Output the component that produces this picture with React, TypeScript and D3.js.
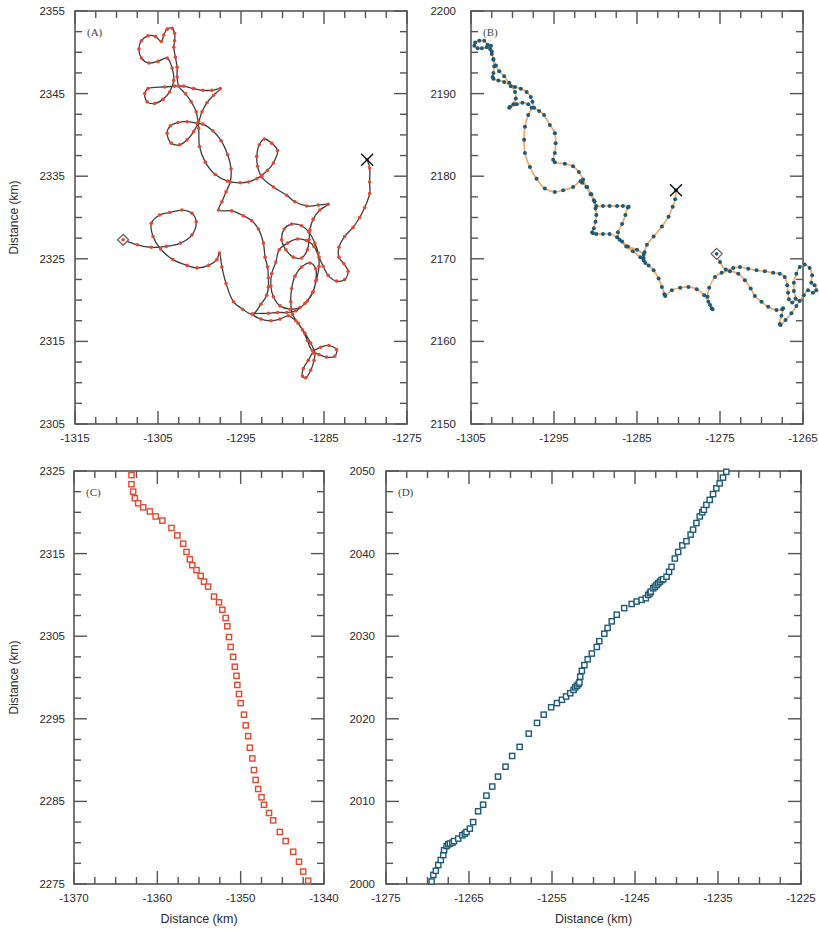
import React from 'react';
import * as d3 from 'd3';

type Pt = [number, number];

// ---- Panel A: drifter track (km), from start (diamond) to end (cross)
const trackA: Pt[] = [
  [-1309.2, 2327.3], [-1307.5, 2326.7], [-1305.8, 2326.4], [-1304.0, 2326.5], [-1302.3, 2326.9],
  [-1300.9, 2327.9], [-1300.4, 2329.5], [-1300.9, 2330.5], [-1302.1, 2330.9], [-1303.6, 2330.6],
  [-1304.8, 2330.3], [-1305.8, 2329.3], [-1305.6, 2327.7], [-1304.7, 2326.2], [-1303.2, 2324.9],
  [-1301.5, 2324.2], [-1300.3, 2323.9], [-1298.9, 2324.2], [-1297.9, 2324.9], [-1297.6, 2325.7],
  [-1297.3, 2324.0], [-1296.8, 2322.0], [-1295.9, 2319.8], [-1294.8, 2318.9], [-1293.6, 2318.3],
  [-1292.6, 2319.5], [-1291.9, 2320.6], [-1291.7, 2321.6], [-1291.7, 2322.7], [-1291.8, 2324.0],
  [-1292.1, 2325.2], [-1292.3, 2326.9], [-1292.9, 2328.6], [-1293.7, 2329.6], [-1294.7, 2330.2],
  [-1296.1, 2330.8], [-1297.7, 2330.9], [-1297.3, 2331.9], [-1296.8, 2333.1], [-1296.3, 2334.3],
  [-1296.2, 2335.9], [-1296.6, 2337.6], [-1297.4, 2339.3], [-1298.4, 2340.5], [-1299.6, 2341.3],
  [-1300.3, 2341.4], [-1301.5, 2341.6], [-1302.6, 2341.5], [-1303.5, 2341.1], [-1303.9, 2340.2],
  [-1303.4, 2339.0], [-1302.4, 2338.8], [-1301.5, 2339.4], [-1300.7, 2340.4], [-1300.1, 2341.6],
  [-1299.7, 2342.8], [-1299.1, 2343.9], [-1298.3, 2344.8], [-1297.5, 2345.6], [-1298.5, 2345.4],
  [-1299.6, 2345.4], [-1300.7, 2345.6], [-1301.9, 2345.9], [-1303.0, 2345.9], [-1304.2, 2345.8],
  [-1306.2, 2345.6], [-1306.6, 2345.0], [-1306.3, 2344.0], [-1305.4, 2343.8], [-1304.4, 2344.3],
  [-1303.6, 2345.2], [-1303.1, 2346.6], [-1303.3, 2348.1], [-1303.9, 2349.3], [-1305.0, 2348.9],
  [-1306.1, 2348.7], [-1307.0, 2349.3], [-1307.3, 2350.4], [-1307.0, 2351.4], [-1306.2, 2352.0],
  [-1305.3, 2351.9], [-1304.6, 2351.3], [-1304.3, 2352.1], [-1303.9, 2352.8], [-1303.3, 2352.9],
  [-1303.0, 2352.3], [-1303.0, 2351.4], [-1303.1, 2350.6], [-1302.9, 2349.4], [-1302.7, 2348.2],
  [-1302.7, 2347.0], [-1302.5, 2345.9], [-1301.7, 2345.0], [-1301.0, 2344.0], [-1300.4, 2342.8],
  [-1300.1, 2340.8], [-1300.0, 2338.6], [-1299.3, 2336.7], [-1298.1, 2335.2], [-1296.6, 2334.4],
  [-1295.1, 2334.2], [-1294.1, 2334.3], [-1293.1, 2334.7], [-1292.5, 2335.1], [-1291.8, 2335.7],
  [-1291.1, 2336.6], [-1290.6, 2338.1], [-1291.3, 2339.0], [-1292.2, 2339.5], [-1292.8, 2338.8],
  [-1293.1, 2337.4], [-1293.0, 2336.2], [-1292.5, 2334.9], [-1291.1, 2333.7], [-1289.5, 2332.7],
  [-1288.5, 2331.9], [-1287.1, 2331.4], [-1285.7, 2331.5], [-1284.5, 2331.6], [-1285.5, 2330.9],
  [-1286.3, 2329.8], [-1286.7, 2328.5], [-1286.8, 2327.3], [-1287.0, 2326.1], [-1287.7, 2325.1],
  [-1288.7, 2325.2], [-1289.6, 2326.1], [-1290.1, 2327.3], [-1289.8, 2328.6], [-1288.9, 2329.2],
  [-1287.7, 2329.0], [-1286.8, 2328.2], [-1286.1, 2326.9], [-1285.7, 2325.7], [-1285.6, 2324.1],
  [-1285.9, 2322.5], [-1286.4, 2320.9], [-1287.3, 2319.6], [-1288.4, 2318.7], [-1289.5, 2318.5],
  [-1290.6, 2318.5], [-1291.7, 2318.4], [-1293.6, 2318.3], [-1292.6, 2317.7], [-1291.4, 2317.5],
  [-1290.3, 2317.7], [-1289.3, 2318.1], [-1288.4, 2317.5], [-1287.6, 2316.4], [-1287.0, 2315.1],
  [-1286.4, 2313.9], [-1285.4, 2314.3], [-1284.4, 2314.5], [-1283.5, 2314.0], [-1283.7, 2313.2],
  [-1284.7, 2313.1], [-1285.6, 2313.4], [-1286.3, 2313.6], [-1286.9, 2312.7], [-1287.5, 2311.7],
  [-1287.6, 2310.8], [-1287.2, 2310.6], [-1286.6, 2311.5], [-1286.2, 2312.7], [-1286.1, 2313.6],
  [-1286.6, 2314.8], [-1287.3, 2316.0], [-1288.1, 2317.2], [-1288.8, 2318.3], [-1289.0, 2319.8],
  [-1288.9, 2321.4], [-1288.5, 2322.9], [-1287.7, 2324.0], [-1286.7, 2324.5], [-1286.0, 2323.8],
  [-1286.0, 2322.3], [-1286.3, 2321.0], [-1287.0, 2319.9], [-1287.9, 2319.1], [-1289.1, 2318.9],
  [-1290.3, 2319.3], [-1291.1, 2320.4], [-1291.4, 2321.7], [-1291.3, 2323.2], [-1290.8, 2324.6],
  [-1290.4, 2326.1], [-1289.4, 2326.9], [-1288.2, 2327.4], [-1287.1, 2327.2], [-1286.2, 2326.5],
  [-1285.6, 2325.2], [-1285.1, 2324.1], [-1284.5, 2323.0], [-1283.5, 2322.3], [-1282.5, 2322.5],
  [-1282.1, 2323.5], [-1282.6, 2324.4], [-1283.2, 2325.2], [-1283.2, 2326.4], [-1282.5, 2327.7],
  [-1281.5, 2328.8], [-1280.7, 2330.0], [-1280.1, 2331.2], [-1279.5, 2332.9], [-1279.5, 2334.3],
  [-1279.5, 2336.0], [-1279.8, 2337.0],
];

// ---- Panel B: second drifter track (km), start (diamond) to end (cross)
const trackB: Pt[] = [
  [-1275.4, 2170.6], [-1275.0, 2169.6], [-1274.3, 2168.7], [-1273.4, 2168.9], [-1272.6, 2169.0],
  [-1271.6, 2168.8], [-1270.6, 2168.6], [-1269.6, 2168.5], [-1268.6, 2168.3], [-1267.8, 2168.2],
  [-1267.2, 2167.8], [-1266.9, 2166.8], [-1266.8, 2165.9], [-1266.7, 2165.1], [-1266.3, 2164.7],
  [-1265.9, 2165.2], [-1266.1, 2166.1], [-1266.1, 2167.1], [-1265.8, 2168.2], [-1265.4, 2169.0],
  [-1264.8, 2169.3], [-1264.2, 2168.9], [-1263.9, 2168.0], [-1264.0, 2167.1], [-1263.6, 2166.8],
  [-1263.4, 2166.2], [-1263.8, 2165.9], [-1264.4, 2166.2], [-1264.9, 2165.6], [-1265.4, 2164.9],
  [-1265.8, 2164.3], [-1266.4, 2163.4], [-1267.1, 2162.6], [-1267.7, 2162.0], [-1267.8, 2162.1],
  [-1267.6, 2163.1], [-1267.4, 2164.0], [-1267.5, 2163.9], [-1268.2, 2163.8], [-1269.2, 2164.2],
  [-1270.0, 2164.8], [-1270.8, 2165.5], [-1271.3, 2166.4], [-1272.0, 2167.4], [-1272.8, 2168.2],
  [-1273.8, 2168.5], [-1274.8, 2168.3], [-1275.6, 2167.8], [-1276.3, 2166.5], [-1276.5, 2165.4],
  [-1276.2, 2164.4], [-1275.9, 2163.9], [-1276.0, 2164.0], [-1276.4, 2164.8], [-1276.9, 2165.6],
  [-1277.8, 2166.3], [-1278.8, 2166.6], [-1279.8, 2166.5], [-1280.8, 2166.2], [-1281.6, 2165.5],
  [-1281.7, 2165.7], [-1282.0, 2166.6], [-1282.4, 2167.6], [-1283.0, 2168.6], [-1283.6, 2169.2],
  [-1284.2, 2169.8], [-1284.2, 2170.5], [-1285.0, 2171.1], [-1286.1, 2171.5], [-1286.8, 2172.1],
  [-1287.4, 2172.6], [-1288.3, 2173.0], [-1289.1, 2173.0], [-1289.9, 2173.0], [-1290.3, 2173.1],
  [-1290.4, 2173.2], [-1290.2, 2173.7], [-1290.0, 2174.5], [-1289.9, 2175.3], [-1290.0, 2176.1],
  [-1290.1, 2176.9], [-1290.5, 2177.8], [-1291.0, 2178.7], [-1291.6, 2179.2], [-1291.8, 2179.4],
  [-1292.7, 2178.7], [-1293.9, 2178.3], [-1294.9, 2178.1], [-1296.1, 2178.5], [-1297.1, 2179.7],
  [-1297.9, 2181.1], [-1298.5, 2182.8], [-1298.6, 2184.4], [-1298.5, 2186.0], [-1298.1, 2187.4],
  [-1297.7, 2188.3], [-1298.1, 2188.7], [-1298.8, 2188.9], [-1299.5, 2188.7], [-1300.4, 2188.3],
  [-1300.3, 2188.4], [-1299.9, 2188.7], [-1299.6, 2189.4], [-1299.7, 2190.2], [-1300.2, 2190.9],
  [-1301.0, 2191.4], [-1301.7, 2191.6], [-1302.3, 2191.8], [-1302.4, 2192.0], [-1302.3, 2192.5],
  [-1302.2, 2193.3], [-1302.3, 2194.1], [-1302.5, 2194.8], [-1302.7, 2195.4], [-1303.0, 2195.9],
  [-1303.4, 2196.4], [-1304.0, 2196.4], [-1304.5, 2196.2], [-1304.6, 2195.8], [-1304.2, 2195.5],
  [-1303.7, 2195.5], [-1303.1, 2195.6], [-1302.6, 2195.8], [-1302.5, 2195.1], [-1302.3, 2194.2],
  [-1302.0, 2193.4], [-1301.6, 2192.7], [-1301.0, 2192.1], [-1300.4, 2191.3], [-1299.7, 2190.8],
  [-1299.0, 2190.6], [-1298.3, 2190.2], [-1297.8, 2189.6], [-1297.6, 2189.0], [-1297.4, 2188.3],
  [-1296.8, 2187.9], [-1296.2, 2187.4], [-1295.5, 2186.2], [-1294.9, 2185.2], [-1294.8, 2184.0],
  [-1294.9, 2182.8], [-1295.1, 2182.0], [-1294.9, 2181.7], [-1293.7, 2181.5], [-1292.7, 2181.2],
  [-1292.0, 2180.5], [-1291.5, 2179.6], [-1291.1, 2178.7], [-1290.6, 2177.8], [-1290.2, 2177.1],
  [-1289.9, 2176.4], [-1289.1, 2176.4], [-1288.3, 2176.4], [-1287.4, 2176.4], [-1286.7, 2176.4],
  [-1286.0, 2176.3], [-1286.1, 2176.2], [-1286.4, 2175.3], [-1286.8, 2174.2], [-1287.3, 2173.2],
  [-1287.1, 2172.3], [-1286.3, 2171.5], [-1285.5, 2170.9], [-1284.6, 2170.2], [-1284.0, 2169.5],
  [-1284.2, 2170.1], [-1284.1, 2170.8], [-1283.8, 2171.7], [-1283.0, 2172.7], [-1282.0, 2173.9],
  [-1281.2, 2175.1], [-1280.7, 2176.3], [-1280.4, 2177.2], [-1280.3, 2178.3],
];

// ---- Panel C: positions, red series
const seriesC: Pt[] = [
  [-1363.1, 2324.5], [-1363.1, 2323.4], [-1362.9, 2322.5], [-1362.7, 2321.7], [-1362.3, 2321.1],
  [-1361.7, 2320.6], [-1360.9, 2320.1], [-1360.2, 2319.5], [-1359.4, 2319.0], [-1358.3, 2318.1],
  [-1357.6, 2317.2], [-1356.9, 2316.2], [-1356.5, 2315.2], [-1356.1, 2314.3], [-1355.8, 2313.6],
  [-1355.3, 2313.0], [-1354.8, 2312.3], [-1354.4, 2311.6], [-1353.9, 2311.0], [-1353.2, 2309.8],
  [-1352.6, 2309.1], [-1352.2, 2308.2], [-1351.8, 2307.2], [-1351.6, 2306.2], [-1351.4, 2304.9],
  [-1351.2, 2303.7], [-1350.9, 2302.5], [-1350.7, 2301.3], [-1350.5, 2300.2], [-1350.4, 2299.1],
  [-1350.2, 2298.0], [-1350.0, 2296.9], [-1349.6, 2295.5], [-1349.4, 2294.2], [-1349.1, 2292.9],
  [-1348.9, 2291.5], [-1348.6, 2290.2], [-1348.4, 2288.8], [-1348.2, 2287.6], [-1347.9, 2286.5],
  [-1347.5, 2285.5], [-1347.2, 2284.6], [-1346.6, 2283.6], [-1346.1, 2282.7], [-1345.3, 2281.3],
  [-1344.6, 2280.2], [-1343.7, 2278.9], [-1343.0, 2277.7], [-1342.5, 2276.5], [-1341.9, 2275.4],
];

// ---- Panel D: positions, blue series
const seriesD: Pt[] = [
  [-1269.5, 2000.3], [-1269.3, 2001.1], [-1269.0, 2001.6], [-1268.7, 2002.3], [-1268.4, 2002.9],
  [-1268.1, 2003.5], [-1268.0, 2004.1], [-1267.7, 2004.6], [-1267.5, 2004.8], [-1267.3, 2004.9],
  [-1267.0, 2005.0], [-1266.8, 2005.2], [-1266.3, 2005.5], [-1265.8, 2005.9], [-1265.5, 2006.1],
  [-1265.3, 2006.3], [-1264.9, 2006.7], [-1264.5, 2007.5], [-1263.9, 2008.8], [-1263.3, 2009.6],
  [-1262.9, 2010.7], [-1262.2, 2011.8], [-1261.5, 2013.0], [-1260.6, 2014.2], [-1259.8, 2015.5],
  [-1258.9, 2016.6], [-1257.8, 2018.2], [-1256.8, 2019.5], [-1256.0, 2020.5], [-1255.1, 2021.4],
  [-1254.4, 2021.9], [-1253.8, 2022.3], [-1253.3, 2022.7], [-1252.8, 2023.1], [-1252.4, 2023.5],
  [-1252.2, 2023.8], [-1252.0, 2024.0], [-1251.8, 2024.2], [-1251.7, 2024.4], [-1251.6, 2025.1],
  [-1251.4, 2025.8], [-1251.1, 2026.5], [-1250.7, 2027.2], [-1250.2, 2027.9], [-1249.6, 2028.7],
  [-1249.3, 2029.4], [-1248.7, 2030.3], [-1248.3, 2031.0], [-1247.8, 2031.8], [-1247.2, 2032.6],
  [-1246.3, 2033.4], [-1245.4, 2033.9], [-1244.8, 2034.2], [-1244.2, 2034.4], [-1243.7, 2034.6],
  [-1243.4, 2035.0], [-1243.2, 2035.2], [-1243.1, 2035.4], [-1242.8, 2035.8], [-1242.6, 2036.0],
  [-1242.4, 2036.2], [-1242.2, 2036.4], [-1242.0, 2036.6], [-1241.8, 2036.8], [-1241.6, 2036.9],
  [-1241.2, 2037.2], [-1240.9, 2037.8], [-1240.6, 2038.4], [-1240.2, 2039.4], [-1239.8, 2040.2],
  [-1239.3, 2041.0], [-1238.8, 2041.5], [-1238.3, 2042.3], [-1238.0, 2042.9], [-1237.6, 2043.7],
  [-1237.2, 2044.5], [-1236.9, 2045.0], [-1236.7, 2045.3], [-1236.4, 2045.9], [-1236.0, 2046.5],
  [-1235.6, 2047.2], [-1235.2, 2047.9], [-1234.8, 2048.5], [-1234.4, 2049.2], [-1234.0, 2049.9],
];

// Axis tick labels per panel
const ticksAX = [-1315, -1305, -1295, -1285, -1275];
const ticksAY = [2305, 2315, 2325, 2335, 2345, 2355];
const ticksBX = [-1305, -1295, -1285, -1275, -1265];
const ticksBY = [2150, 2160, 2170, 2180, 2190, 2200];
const ticksCX = [-1370, -1360, -1350, -1340];
const ticksCY = [2275, 2285, 2295, 2305, 2315, 2325];
const ticksDX = [-1275, -1265, -1255, -1245, -1235, -1225];
const ticksDY = [2000, 2010, 2020, 2030, 2040, 2050];

const RED = '#e5472f';
const TEAL = '#1c5a78';
const ORANGE = '#f5a963';
const FRAME = '#555';
const TXT = '#2b2b2b';
const SANS = '"Liberation Sans", Arial, Helvetica, sans-serif';
const SERIF = '"Liberation Serif", "Times New Roman", serif';

interface Box { l: number; t: number; r: number; b: number }

function Frame({ box, x, y, xt, yt, gap, letter }: {
  box: Box; x: d3.ScaleLinear<number, number>; y: d3.ScaleLinear<number, number>;
  xt: number[]; yt: number[]; gap: number; letter: string;
}) {
  const [x0, x1] = x.domain();
  const [y0, y1] = y.domain();
  const minorX = d3.range(x0, x1 + 0.01, 2.5);
  const minorY = d3.range(y0, y1 + 0.01, 2.5);
  const isMajor = (v: number, d0: number) => Math.abs(((v - d0) % 10 + 10) % 10) < 0.01;
  const MJ = 13, MN = 7;
  return (
    <g>
      {minorX.map((v, i) => {
        const px = x(v);
        const len = isMajor(v, x0) ? MJ : MN;
        return (
          <g key={'x' + i}>
            <line x1={px} x2={px} y1={box.b} y2={box.b - len} stroke={FRAME} strokeWidth={1.4} />
            <line x1={px} x2={px} y1={box.t} y2={box.t + len} stroke={FRAME} strokeWidth={1.4} />
          </g>
        );
      })}
      {minorY.map((v, i) => {
        const py = y(v);
        const len = isMajor(v, y0) ? MJ : MN;
        return (
          <g key={'y' + i}>
            <line x1={box.l} x2={box.l + len} y1={py} y2={py} stroke={FRAME} strokeWidth={1.4} />
            <line x1={box.r} x2={box.r - len} y1={py} y2={py} stroke={FRAME} strokeWidth={1.4} />
          </g>
        );
      })}
      <rect x={box.l} y={box.t} width={box.r - box.l} height={box.b - box.t}
        fill="none" stroke={FRAME} strokeWidth={1.6} />
      {xt.map((v) => (
        <text key={'lx' + v} x={x(v)} y={box.b + 18} textAnchor="middle"
          fontFamily={SANS} fontSize={11.5} fill={TXT}>{v}</text>
      ))}
      {yt.map((v) => (
        <text key={'ly' + v} x={box.l - gap} y={y(v) + 4} textAnchor="end"
          fontFamily={SANS} fontSize={11.5} fill={TXT}>{v}</text>
      ))}
      <text x={box.l + 12} y={box.t + 25} fontFamily={SERIF} fontSize={11} fill="#444">{letter}</text>
    </g>
  );
}

function Diamond({ cx, cy, dot }: { cx: number; cy: number; dot: string }) {
  const s = 5.5;
  return (
    <g>
      <path d={`M${cx},${cy - s}L${cx + s},${cy}L${cx},${cy + s}L${cx - s},${cy}Z`}
        fill="#fff" stroke="#666" strokeWidth={1.3} />
      <circle cx={cx} cy={cy} r={1.8} fill={dot} />
    </g>
  );
}

function Cross({ cx, cy }: { cx: number; cy: number }) {
  const s = 6;
  return (
    <g stroke="#111" strokeWidth={1.4}>
      <line x1={cx - s} y1={cy - s} x2={cx + s} y2={cy + s} />
      <line x1={cx - s} y1={cy + s} x2={cx + s} y2={cy - s} />
    </g>
  );
}

function Track({ data, x, y, lineColor, lineWidth, dotColor, r }: {
  data: Pt[]; x: d3.ScaleLinear<number, number>; y: d3.ScaleLinear<number, number>;
  lineColor: string; lineWidth: number; dotColor: string; r: number;
}) {
  const gen = d3.line<Pt>().x((d) => x(d[0])).y((d) => y(d[1])).curve(d3.curveCatmullRom.alpha(0.5));
  const first = data[0];
  const last = data[data.length - 1];
  return (
    <g>
      <path d={gen(data) || ''} fill="none" stroke={lineColor} strokeWidth={lineWidth} />
      {data.map((d, i) => (
        <circle key={i} cx={x(d[0])} cy={y(d[1])} r={r} fill={dotColor} />
      ))}
      <Diamond cx={x(first[0])} cy={y(first[1])} dot={dotColor} />
      <Cross cx={x(last[0])} cy={y(last[1])} />
    </g>
  );
}

function Squares({ data, x, y, color }: {
  data: Pt[]; x: d3.ScaleLinear<number, number>; y: d3.ScaleLinear<number, number>; color: string;
}) {
  const s = 5.2;
  return (
    <g>
      {data.map((d, i) => (
        <rect key={i} x={x(d[0]) - s / 2} y={y(d[1]) - s / 2} width={s} height={s}
          fill="#fff" stroke={color} strokeWidth={1.4} />
      ))}
    </g>
  );
}

export default function App() {
  const boxA: Box = { l: 75, t: 11, r: 407, b: 424 };
  const boxB: Box = { l: 471, t: 11, r: 803, b: 424 };
  const boxC: Box = { l: 74, t: 471, r: 324, b: 884 };
  const boxD: Box = { l: 386, t: 471, r: 801, b: 884 };

  const xA = d3.scaleLinear().domain([-1315, -1275]).range([boxA.l, boxA.r]);
  const yA = d3.scaleLinear().domain([2305, 2355]).range([boxA.b, boxA.t]);
  const xB = d3.scaleLinear().domain([-1305, -1265]).range([boxB.l, boxB.r]);
  const yB = d3.scaleLinear().domain([2150, 2200]).range([boxB.b, boxB.t]);
  const xC = d3.scaleLinear().domain([-1370, -1340]).range([boxC.l, boxC.r]);
  const yC = d3.scaleLinear().domain([2275, 2325]).range([boxC.b, boxC.t]);
  const xD = d3.scaleLinear().domain([-1275, -1225]).range([boxD.l, boxD.r]);
  const yD = d3.scaleLinear().domain([2000, 2050]).range([boxD.b, boxD.t]);

  const title = 'Distance (km)';

  return (
    <svg width={819} height={929} viewBox="0 0 819 929"
      style={{ position: 'absolute', left: 0, top: 0, background: '#fff' }}>
      <rect x={0} y={0} width={819} height={929} fill="#fff" />

      <Frame box={boxA} x={xA} y={yA} xt={ticksAX} yt={ticksAY} gap={10} letter="(A)" />
      <Track data={trackA} x={xA} y={yA} lineColor="#3d3d3d" lineWidth={1.3} dotColor={RED} r={1.8} />

      <Frame box={boxB} x={xB} y={yB} xt={ticksBX} yt={ticksBY} gap={15} letter="(B)" />
      <Track data={trackB} x={xB} y={yB} lineColor={ORANGE} lineWidth={1.7} dotColor={TEAL} r={2.0} />

      <Frame box={boxC} x={xC} y={yC} xt={ticksCX} yt={ticksCY} gap={9} letter="(C)" />
      <Squares data={seriesC} x={xC} y={yC} color={RED} />

      <Frame box={boxD} x={xD} y={yD} xt={ticksDX} yt={ticksDY} gap={11} letter="(D)" />
      <Squares data={seriesD} x={xD} y={yD} color={TEAL} />

      <text transform={`translate(18,${(boxA.t + boxA.b) / 2}) rotate(-90)`} textAnchor="middle"
        fontFamily={SANS} fontSize={12} fill={TXT}>{title}</text>
      <text transform={`translate(18,${(boxC.t + boxC.b) / 2}) rotate(-90)`} textAnchor="middle"
        fontFamily={SANS} fontSize={12} fill={TXT}>{title}</text>
      <text x={(boxC.l + boxC.r) / 2} y={923} textAnchor="middle"
        fontFamily={SANS} fontSize={12.5} fill={TXT}>{title}</text>
      <text x={(boxD.l + boxD.r) / 2} y={923} textAnchor="middle"
        fontFamily={SANS} fontSize={12.5} fill={TXT}>{title}</text>
    </svg>
  );
}
